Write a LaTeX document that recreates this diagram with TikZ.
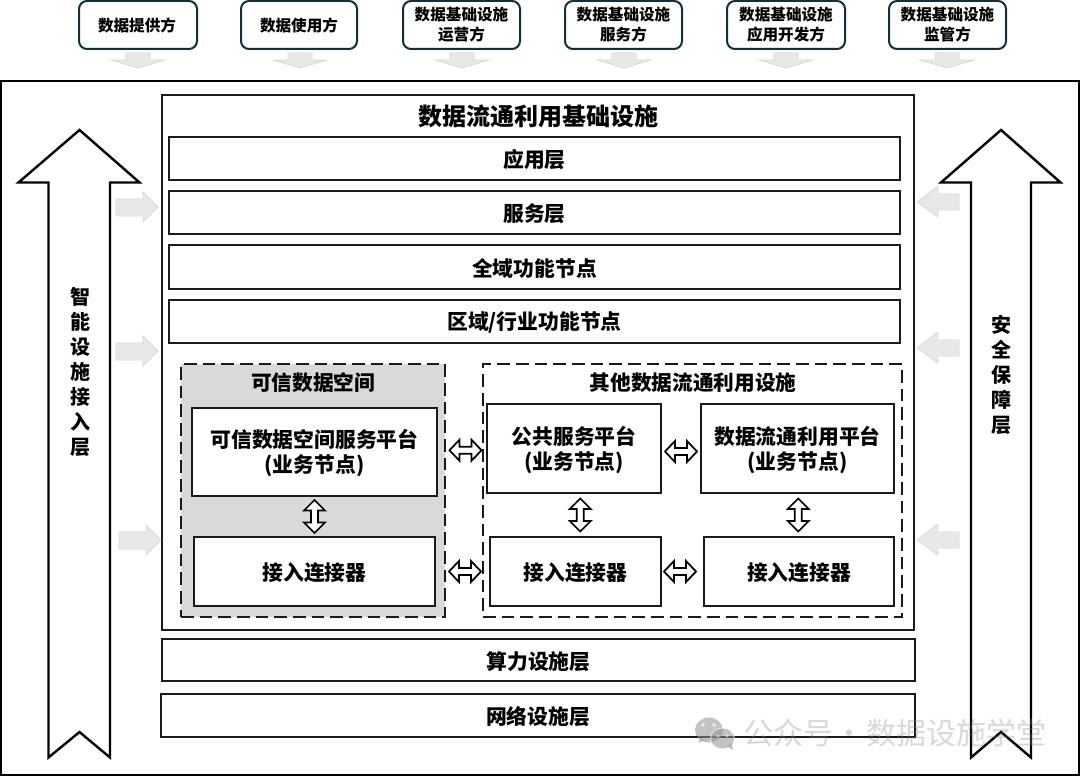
\documentclass[tikz,border=0pt]{standalone}
\usepackage{fontspec}
\setmainfont{Noto Sans CJK SC}
\usetikzlibrary{calc}
\definecolor{topline}{HTML}{12303C}
\definecolor{softfill}{HTML}{E8E8E8}
\definecolor{softline}{HTML}{DADADA}
\definecolor{greyzone}{HTML}{D9D9D9}
\definecolor{inkline}{HTML}{1A1A1A}
\tikzset{
  x=0.75pt,y=-0.75pt,
  every node/.style={inner sep=0pt,outer sep=0pt,align=center,font=\bfseries},
  topbox/.style={draw=topline,line width=1.5pt,rounded corners=6pt,fill=white,font=\bfseries\fontsize{11.7}{15}\selectfont},
  layerbox/.style={draw=inkline,line width=1.1pt,fill=white},
  layertext/.style={font=\bfseries\fontsize{15.6}{18.75}\selectfont,yshift=-1.1pt},
  zonebox/.style={draw=inkline,line width=1.1pt,dash pattern=on 9.5pt off 4.5pt},
  zonetitle/.style={font=\bfseries\fontsize{15.5}{18}\selectfont},
  softarrow/.style={draw=softline,line width=0.6pt,fill=softfill},
  bigarrow/.style={draw=black,line width=1.8pt,fill=white,miter limit=10},
  biglabel/.style={font=\bfseries\fontsize{15}{18.75}\selectfont},
  twoway/.style={draw=black,line width=1.3pt,fill=white,line join=miter},
}
% name, x1, y1, x2, y2, style, text
\newcommand{\bx}[7]{\node[#6,minimum width={(#4-#2)*0.75pt},minimum height={(#5-#3)*0.75pt}] (#1) at ({(#2+#4)/2},{(#3+#5)/2}) {#7};}
% labelled layer box: name, x1, y1, x2, y2, text
\newcommand{\lb}[6]{\bx{#1}{#2}{#3}{#4}{#5}{layerbox}{}\node[layertext] (#1t) at (#1.center) {#6};}
% two-way block arrow at a named point; option = rotation
\newcommand{\twoH}[2]{\coordinate (#1) at (#2);
  \draw[twoway,shift={(#1)}] (-16,0) -- (-6,-10.5) -- (-6,-3.5) -- (6,-3.5) -- (6,-10.5) -- (16,0) -- (6,10.5) -- (6,3.5) -- (-6,3.5) -- (-6,10.5) -- cycle;}
\newcommand{\twoV}[2]{\coordinate (#1) at (#2);
  \draw[twoway,shift={(#1)}] (0,-16.5) -- (10.5,-6) -- (3.5,-6) -- (3.5,6) -- (10.5,6) -- (0,16.5) -- (-10.5,6) -- (-3.5,6) -- (-3.5,-6) -- (-10.5,-6) -- cycle;}
\newcommand{\softR}[3]{\path[softarrow] (#1,#3-8) -- (#1+27,#3-8) -- (#1+27,#3-15) -- (#2,#3) -- (#1+27,#3+15) -- (#1+27,#3+9) -- (#1,#3+9) -- cycle;}
\newcommand{\softL}[3]{\path[softarrow] (#1,#3-8) -- (#1-21,#3-8) -- (#1-21,#3-16) -- (#2,#3) -- (#1-21,#3+15) -- (#1-21,#3+8) -- (#1,#3+8) -- cycle;}
\newcommand{\softD}[1]{\path[softarrow] (#1-12,53) -- (#1+12,53) -- (#1+12,60) -- (#1+27,60) -- (#1,68) -- (#1-27,60) -- (#1-12,60) -- cycle;}
\begin{document}
\begin{tikzpicture}
\useasboundingbox (0,0) rectangle (1080,777);
\fill[white] (0,0) rectangle (1080,777);
% top boxes
\bx{tA}{79}{1}{197}{49}{topbox}{\hspace{-1.5pt}数据提供方}
\bx{tB}{241}{1}{357}{49}{topbox}{数据使用方}
\bx{tC}{403}{1}{520}{49}{topbox}{数据基础设施\\运营方}
\bx{tD}{565}{1}{682}{49}{topbox}{数据基础设施\\服务方}
\bx{tE}{727}{1}{845}{49}{topbox}{数据基础设施\\应用开发方}
\bx{tF}{889}{1}{1006}{49}{topbox}{数据基础设施\\监管方}
\softD{138}\softD{300}\softD{462}\softD{624}\softD{786}\softD{947}
% outer
\bx{outer}{1}{81}{1079}{775}{draw=black,line width=1.4pt}{}
% main
\bx{main}{162}{95}{914}{630}{draw=inkline,line width=1.1pt}{}
\node[font=\bfseries\fontsize{18}{22}\selectfont] (title) at (538,116) {数据流通利用基础设施};
\lb{l1}{169}{137}{900}{180}{应用层}
\lb{l2}{169}{191}{900}{234}{服务层}
\lb{l3}{169}{245}{900}{289}{全域功能节点}
\lb{l4}{169}{300}{900}{343}{区域/行业功能节点}
\lb{l5}{162}{639}{915}{681}{算力设施层}
\lb{l6}{161}{694}{915}{737}{网络设施层}
% zones
\bx{zA}{181}{364}{445}{617}{zonebox,fill=greyzone}{}
\bx{zB}{483}{364}{902}{617}{zonebox}{}
\node[zonetitle] (zAt) at (313,383) {可信数据空间};
\node[zonetitle] (zBt) at (693,383) {其他数据流通利用设施};
\lb{pA}{192}{408}{437}{496}{可信数据空间服务平台\\(业务节点)}
\lb{cA}{194}{537}{435}{606}{接入连接器}
\lb{pB}{487}{404}{661}{493}{公共服务平台\\(业务节点)}
\lb{pC}{701}{404}{894}{493}{数据流通利用平台\\(业务节点)}
\lb{cB}{490}{537}{661}{606}{接入连接器}
\lb{cC}{704}{537}{894}{606}{接入连接器}
% two-way arrows
\twoV{aAv}{$(pA.south)!0.5!(cA.north)$}
\twoV{aBv}{$(pB.south)!0.5!(cB.north)+(5.5,0)$}
\twoV{aCv}{$(pC.south)!0.5!(cC.north)$}
\twoH{aAB}{$(pA.east)!0.5!(pB.west)+(3.5,0)$}
\twoH{aCC}{$(cA.east)!0.5!(cB.west)+(2.5,0)$}
\twoH{aPP}{$(pB.east)!0.5!(pC.west)+(0,3)$}
\twoH{aBC}{$(cB.east)!0.5!(cC.west)-(2.5,0)$}
% big arrows
\draw[bigarrow] (79.5,130) -- (139.5,182.5) -- (110,182.5) -- (110,757.5) -- (79.5,732) -- (48.5,757.5) -- (48.5,182.5) -- (18.5,182.5) -- cycle;
\draw[bigarrow] (1001,130) -- (1060.5,182.5) -- (1031,182.5) -- (1031,757.5) -- (1001,732) -- (971,757.5) -- (971,182.5) -- (941,182.5) -- cycle;
\node[biglabel] (leftlab) at (80,371.5) {智\\能\\设\\施\\接\\入\\层};
\node[biglabel] (rightlab) at (1001,375) {安\\全\\保\\障\\层};
% soft arrows
\softR{116}{158}{207}\softR{116}{158}{351}\softR{119}{161}{540}
\softL{959}{917}{202}\softL{959}{917}{348}\softL{959}{917}{540}
% watermark
\begin{scope}[opacity=0.55]
\fill[gray!85] (709,730) ellipse (14 and 12.5);
\fill[gray!85] (700,738) -- (698,743) -- (706,740) -- cycle;
\draw[white,line width=0.9pt,fill=gray!85] (722.5,738.5) ellipse (12 and 10.5);
\fill[gray!85] (727,746) -- (733,750) -- (732,743) -- cycle;
\fill[white] (703,725) circle (2) (714,725) circle (2) (718,736) circle (1.6) (727,736) circle (1.6);
\end{scope}
\node[anchor=west,text=gray,opacity=0.3,font=\fontsize{22.5}{26}\selectfont] (mark) at (743,733) {公众号\makebox[24.75pt]{·}数据设施学堂};
\end{tikzpicture}
\end{document}
